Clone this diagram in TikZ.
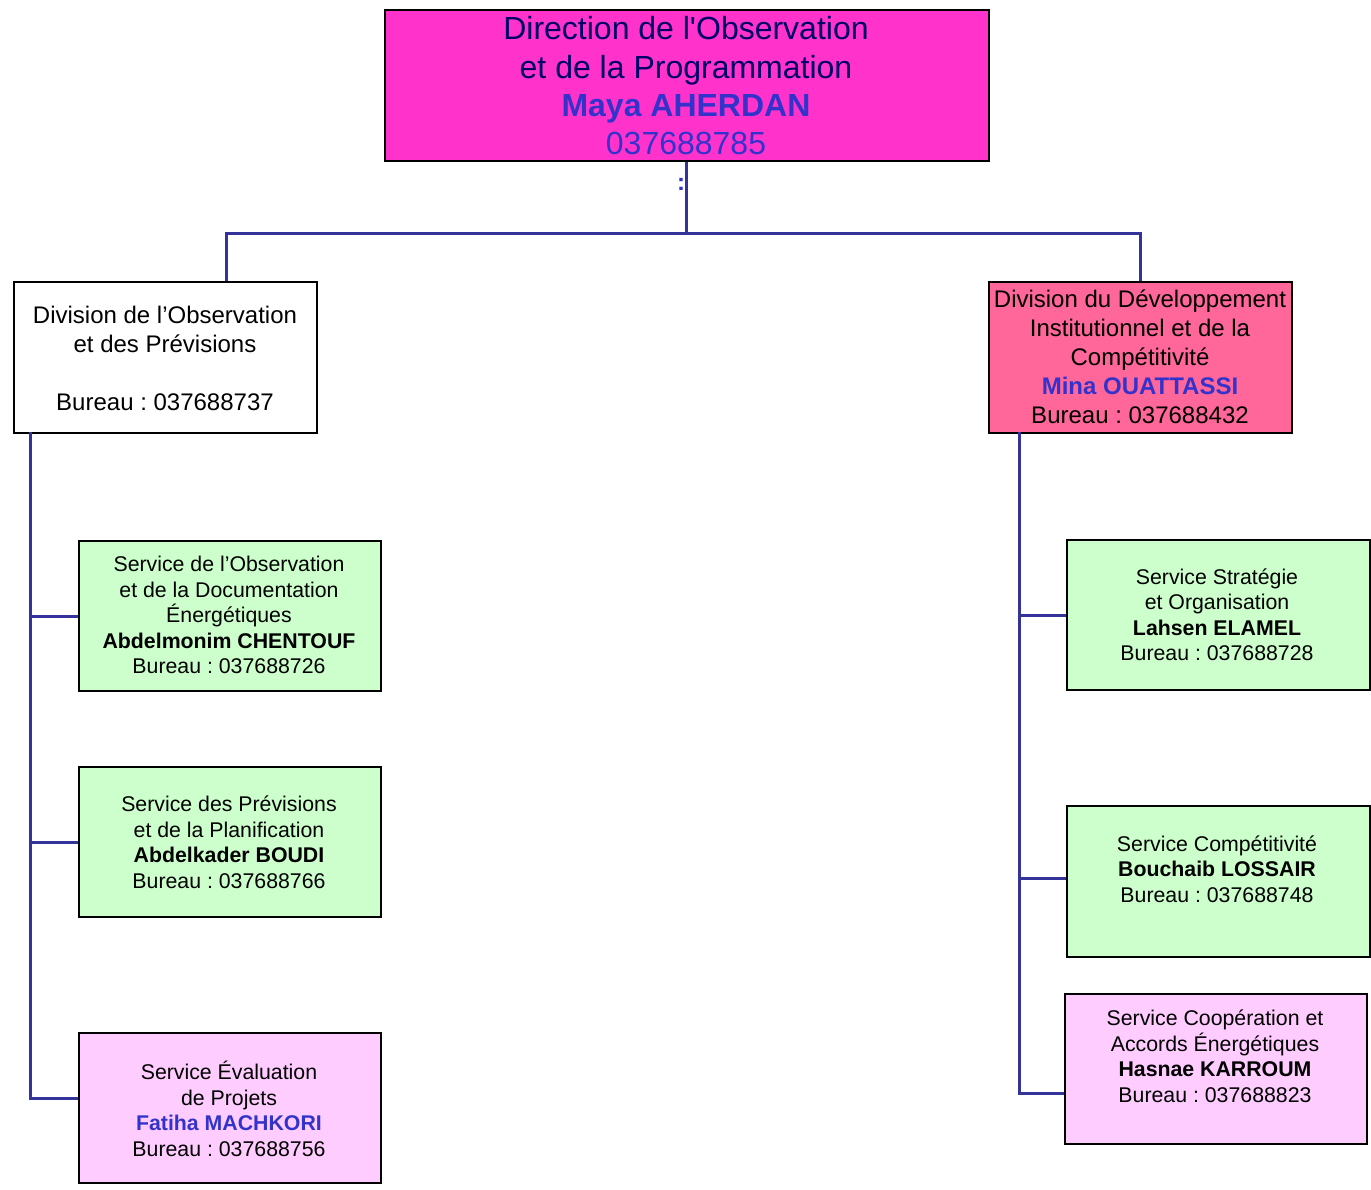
\documentclass[tikz,border=0pt]{standalone}
\usepackage{fontspec}
\setmainfont{Liberation Sans}
\frenchspacing
\definecolor{topfill}{HTML}{FF33CC}
\definecolor{navy}{HTML}{000066}
\definecolor{nameblue}{HTML}{3333CC}
\definecolor{linkc}{HTML}{333399}
\definecolor{pinkfill}{HTML}{FF6699}
\definecolor{greenfill}{HTML}{CCFFCC}
\definecolor{lavfill}{HTML}{FFCCFF}
\begin{document}
\begin{tikzpicture}[x=1pt,y=-1pt,
  box/.style={draw=black,line width=2pt,inner sep=0pt,anchor=north west},
  link/.style={draw=linkc,line width=3pt},
  txt/.style={align=center,inner sep=0pt},
  svc/.style={txt,font=\fontsize{21.3}{25.5}\selectfont},
  divt/.style={txt,font=\fontsize{24}{29}\selectfont},
  topt/.style={txt,font=\fontsize{32}{38.3}\selectfont}]
\useasboundingbox (0,0) rectangle (1371,1189);
% boxes
\node[box,fill=topfill,minimum width=604,minimum height=151] (top) at (384,9) {};
\node[box,fill=white,minimum width=303,minimum height=151] (divL) at (13,281) {};
\node[box,fill=pinkfill,minimum width=303,minimum height=151] (divR) at (988,281) {};
\node[box,fill=greenfill,minimum width=302,minimum height=150] (s1) at (78,540) {};
\node[box,fill=greenfill,minimum width=302,minimum height=150] (s2) at (78,766) {};
\node[box,fill=lavfill,minimum width=302,minimum height=150] (s3) at (78,1032) {};
\node[box,fill=greenfill,minimum width=303,minimum height=150] (r1) at (1066,539) {};
\node[box,fill=greenfill,minimum width=303,minimum height=151] (r2) at (1066,805) {};
\node[box,fill=lavfill,minimum width=302,minimum height=150] (r3) at (1064,993) {};
% texts
\node[topt] (topT) at (686,86) {\textcolor{navy}{Direction de l\textquotesingle Observation}\\
  \textcolor{navy}{et de la Programmation}\\
  \textcolor{nameblue}{\bfseries Maya AHERDAN}\\
  \textcolor{nameblue}{037688785}};
\node[txt,font=\fontsize{24}{26}\selectfont\bfseries,text=nameblue] (colon) at (681,184) {:};
\node[divt] (divLT) at (165,358) {Division de l’Observation\\et des Prévisions\\[29pt]Bureau : 037688737};
\node[divt] (divRT) at (1140,357) {Division du Développement\\Institutionnel et de la\\Compétitivité\\
  \textcolor{nameblue}{\bfseries Mina OUATTASSI}\\Bureau : 037688432};
\node[svc] (s1T) at (229,615) {Service de l’Observation\\et de la Documentation\\Énergétiques\\
  \textbf{Abdelmonim CHENTOUF}\\Bureau : 037688726};
\node[svc] (s2T) at (229,842) {Service des Prévisions\\et de la Planification\\
  \textbf{Abdelkader BOUDI}\\Bureau : 037688766};
\node[svc] (s3T) at (229,1109) {Service Évaluation\\de Projets\\
  \textcolor{nameblue}{\bfseries Fatiha MACHKORI}\\Bureau : 037688756};
\node[svc] (r1T) at (1217,615) {Service Stratégie\\et Organisation\\
  \textbf{Lahsen ELAMEL}\\Bureau : 037688728};
\node[svc] (r2T) at (1217,869) {Service Compétitivité\\
  \textbf{Bouchaib LOSSAIR}\\Bureau : 037688748};
\node[svc] (r3T) at (1215,1056) {Service Coopération et\\Accords Énergétiques\\
  \textbf{Hasnae KARROUM}\\Bureau : 037688823};
% connectors
\coordinate (j) at (686,233);
\coordinate (jL) at (226,233);
\coordinate (jR) at (1140,233);
\coordinate (busL) at (30,432);
\coordinate (busR) at (1019,432);
\draw[link] (top.south -| j) -- (j);
\draw[link] (jL |- divL.north) -- (jL) -- (jR) -- (jR |- divR.north);
\draw[link] (busL) |- ([yshift=10]s3.west);
\draw[link] (busL |- s1.west) -- (s1.west);
\draw[link] (busL |- s2.west) -- (s2.west);
\draw[link] (busR) |- ([yshift=-24]r3.west);
\draw[link] (busR |- r1.west) -- (r1.west);
\draw[link] ([yshift=3]busR |- r2.west) -- ([yshift=3]r2.west);
\end{tikzpicture}
\end{document}
